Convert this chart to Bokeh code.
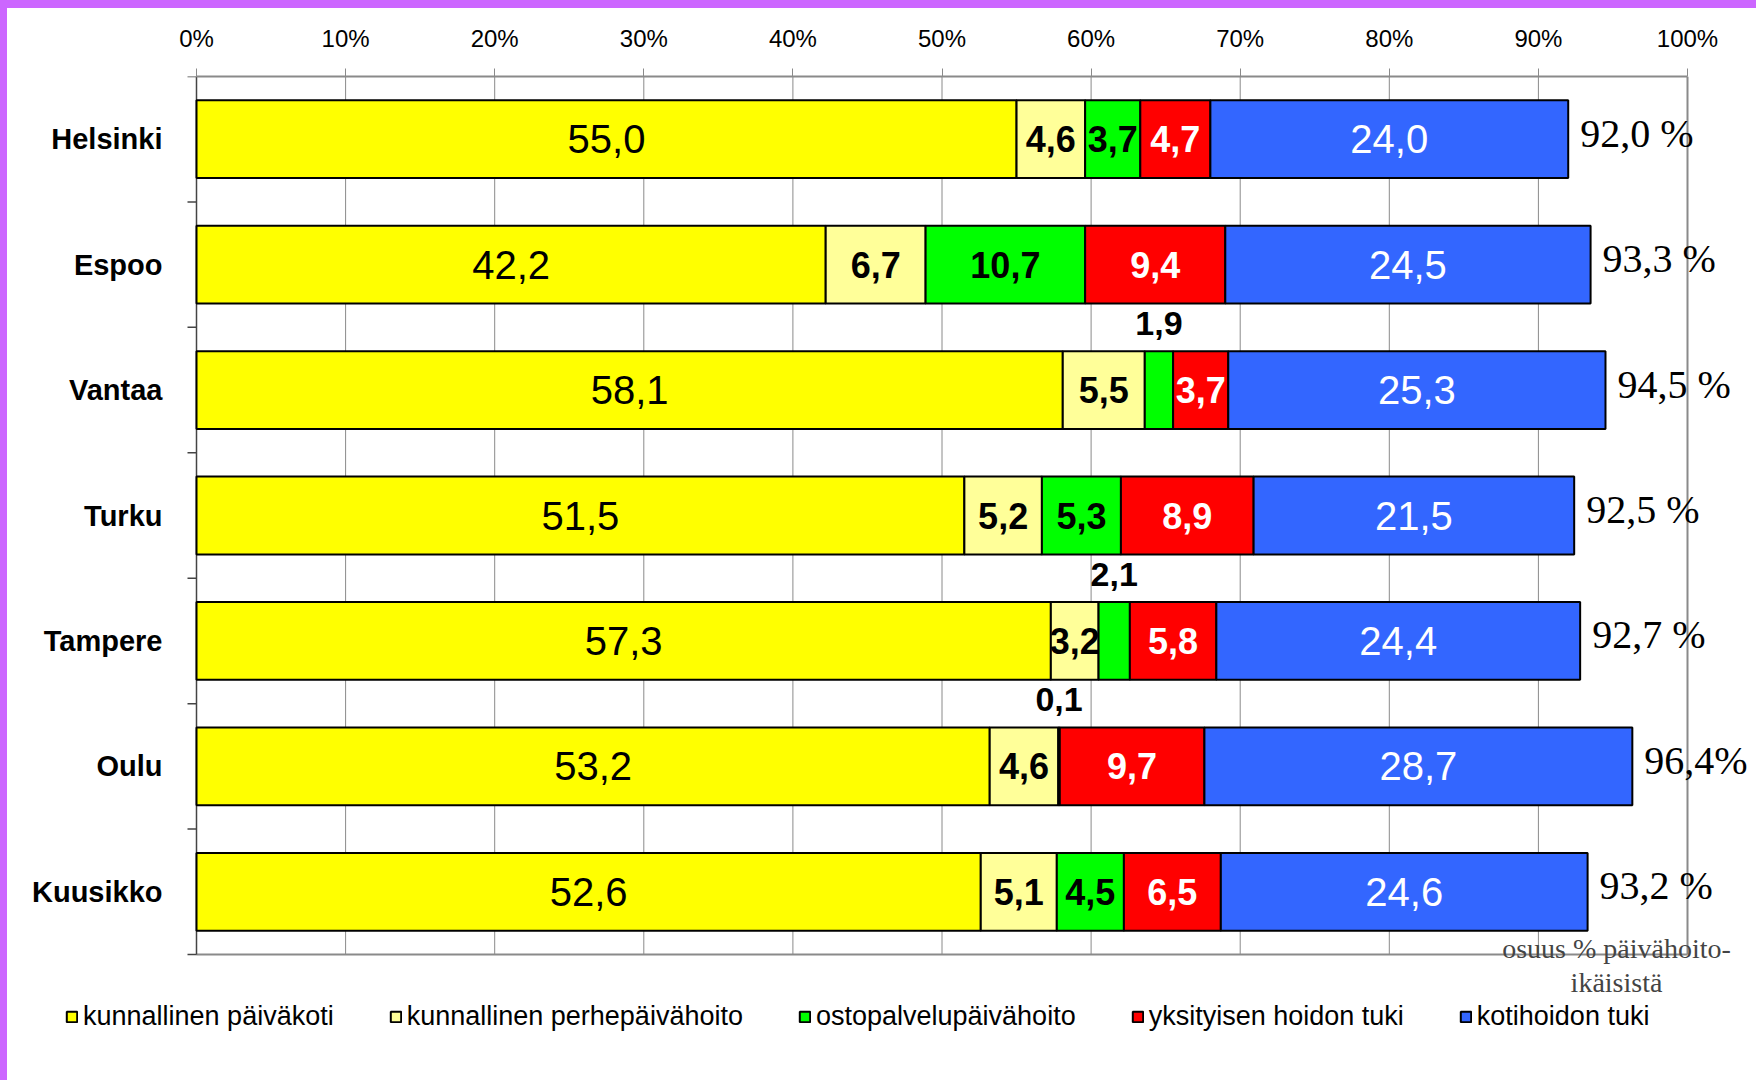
from bokeh.plotting import figure
from bokeh.layouts import column, row
from bokeh.models import (ColumnDataSource, Range1d, FixedTicker, Legend, LegendItem, Label, Div)
from bokeh.core.properties import value
from bokeh.embed import file_html
from bokeh.resources import INLINE

# ---------------- data ----------------
cities = ["Helsinki", "Espoo", "Vantaa", "Turku", "Tampere", "Oulu", "Kuusikko"]
series_names = ["kunnallinen päiväkoti", "kunnallinen perhepäivähoito",
                "ostopalvelupäivähoito", "yksityisen hoidon tuki", "kotihoidon tuki"]
paivakoti = [55.0, 42.2, 58.1, 51.5, 57.3, 53.2, 52.6]
perhepaivahoito = [4.6, 6.7, 5.5, 5.2, 3.2, 4.6, 5.1]
ostopalvelu = [3.7, 10.7, 1.9, 5.3, 2.1, 0.1, 4.5]
yksityinen = [4.7, 9.4, 3.7, 8.9, 5.8, 9.7, 6.5]
kotihoito = [24.0, 24.5, 25.3, 21.5, 24.4, 28.7, 24.6]
total_labels = ["92,0 %", "93,3 %", "94,5 %", "92,5 %", "92,7 %", "96,4%", "93,2 %"]
x_ticks = [0, 10, 20, 30, 40, 50, 60, 70, 80, 90, 100]
x_tick_labels = ["0%", "10%", "20%", "30%", "40%", "50%", "60%", "70%", "80%", "90%", "100%"]
note_lines = ["osuus % päivähoito-", "ikäisistä"]

# ---------------- styles / layout ----------------
keys = ["paivakoti", "perhepaivahoito", "ostopalvelu", "yksityinen", "kotihoito"]
series = [paivakoti, perhepaivahoito, ostopalvelu, yksityinen, kotihoito]
fills = ["#FFFF00", "#FFFF99", "#00FF00", "#FF0000", "#3366FF"]
lab_colors = ["black", "black", "black", "white", "white"]
lab_styles = ["normal", "bold", "bold", "bold", "normal"]
lab_sizes = ["40px", "36px", "36px", "36px", "40px"]
SANS = "Liberation Sans"
SERIF = "Liberation Serif"
GRAY = "#8a8a8a"
DARK = "#444444"
PURPLE = "#CC66FF"

PAGE_W, PAGE_H = 1756, 1080
OX, OY = 7, 8                       # purple strips: left width / top height
W, H = PAGE_W - OX, PAGE_H - OY     # chart canvas size
X0, X100 = 196, 1687                # page px of 0 % and 100 %
Y0, Y7 = 76, 954                    # page px of first / last category boundary
n = len(cities)
ppu = (X100 - X0) / (x_ticks[-1] - x_ticks[0])   # px per percent
ppb = (Y7 - Y0) / n                               # px per category band
x_start = (OX - X0) / ppu
x_end = (PAGE_W - X0) / ppu
y_end = (PAGE_H - Y0) / ppb
tick_len = 9 / ppu

centers = [i + 0.5 for i in range(n)]

p = figure(width=W, height=H,
           x_range=Range1d(x_start, x_end), y_range=Range1d(y_end, 0),
           x_axis_location="above", y_axis_location=None,
           output_backend="svg", toolbar_location=None,
           min_border_left=0, min_border_right=0,
           min_border_top=Y0 - OY, min_border_bottom=0,
           background_fill_color="white", border_fill_color="white")

p.outline_line_color = None
p.xgrid.visible = False
p.ygrid.visible = False

# top axis
xa = p.xaxis[0]
xa.ticker = FixedTicker(ticks=x_ticks)
xa.bounds = (x_ticks[0], x_ticks[-1])
xa.major_label_overrides = {t: l for t, l in zip(x_ticks, x_tick_labels)}
xa.axis_line_color = GRAY
xa.axis_line_width = 2
xa.major_tick_line_color = GRAY
xa.major_tick_out = 8
xa.major_tick_in = 0
xa.minor_tick_line_color = None
xa.major_label_text_font = SANS
xa.major_label_text_font_size = "24px"
xa.major_label_text_color = "black"
xa.major_label_standoff = 17

# vertical grid lines, bottom line
p.segment(x0=x_ticks, x1=x_ticks, y0=[0] * len(x_ticks), y1=[n] * len(x_ticks),
          line_color=GRAY, line_width=[2 if t == x_ticks[-1] else 1 for t in x_ticks])
p.segment(x0=[x_ticks[0]], x1=[x_ticks[-1]], y0=[n], y1=[n], line_color=GRAY, line_width=2)

# category axis: line, boundary ticks, labels
bounds = list(range(n + 1))
p.segment(x0=[0], x1=[0], y0=[0], y1=[n], line_color=DARK, line_width=1.5)
p.segment(x0=[0] * len(bounds), x1=[-tick_len] * len(bounds), y0=bounds, y1=bounds,
          line_color=DARK, line_width=1.5)
p.text(x=[0] * n, y=centers, text=cities, x_offset=-34,
       text_color="black", text_font=value(SANS), text_font_size=value("29px"),
       text_font_style="bold", text_align="right", text_baseline="middle")

# bars
data = dict(y=centers)
for k, s in zip(keys, series):
    data[k] = s
src = ColumnDataSource(data)
renderers = p.hbar_stack(keys, y="y", height=0.62, fill_color=fills,
                         line_color="black", line_width=2, source=src)

# value labels
groups = {}
totals = []
for i in range(n):
    left = 0.0
    for j, s in enumerate(series):
        v = s[i]
        txt = f"{v:.1f}".replace(".", ",")
        if v < 3:
            key = ("bold", "34px")
            y = centers[i] - 0.53
            col = "black"
        else:
            key = (lab_styles[j], lab_sizes[j])
            y = centers[i]
            col = lab_colors[j]
        g = groups.setdefault(key, dict(x=[], y=[], text=[], color=[]))
        g["x"].append(left + v / 2)
        g["y"].append(y)
        g["text"].append(txt)
        g["color"].append(col)
        left += v
    totals.append(left)

for (style, size), g in groups.items():
    p.text(x="x", y="y", text="text", source=ColumnDataSource(g),
           text_color="color", text_font=value(SANS), text_font_size=value(size),
           text_font_style=style, text_align="center", text_baseline="middle")

# totals
p.text(x=totals, y=centers, text=total_labels, x_offset=12, y_offset=-6,
       text_color="black", text_font=value(SERIF), text_font_size=value("40px"),
       text_align="left", text_baseline="middle")

# note text
note_x = (1616 - X0) / ppu
for line, py in zip(note_lines, [948, 982]):
    p.add_layout(Label(x=note_x, y=(py - Y0) / ppb, text=line, text_font=SERIF,
                       text_font_size="28px", text_align="center", text_baseline="middle"))

# legend (inside the frame, which reaches the bottom-left corner of the canvas)
legend = Legend(items=[LegendItem(label=nm, renderers=[r]) for nm, r in zip(series_names, renderers)],
                orientation="horizontal", location=(65 - OX, PAGE_H - 1032),
                glyph_width=13, glyph_height=13, label_standoff=5, spacing=55,
                padding=0, margin=0, border_line_alpha=0, background_fill_alpha=0,
                label_text_font=SANS, label_text_font_size="27px",
                label_text_color="black")
p.add_layout(legend, "center")

# purple page strips: left strip full height, top strip above the chart
left_strip = Div(text="", width=OX, height=PAGE_H, margin=0,
                 styles={"background-color": PURPLE, "overflow": "hidden"})
top_strip = Div(text="", width=W, height=OY, margin=0,
                styles={"background-color": PURPLE, "overflow": "hidden"})

layout = row(left_strip, column(top_strip, p, spacing=0), spacing=0)
open("out.html", "w").write(file_html(layout, INLINE))
